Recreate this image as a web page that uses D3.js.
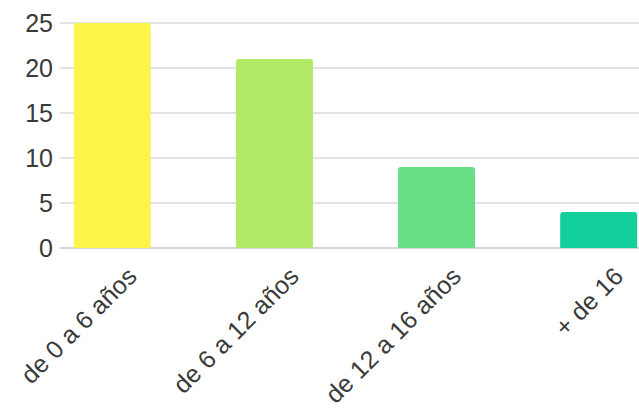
<!DOCTYPE html>
<html><head><meta charset="utf-8">
<script src="https://cdn.jsdelivr.net/npm/d3@7"></script>
<style>html,body{margin:0;padding:0;background:#fff;overflow:hidden}</style>
</head><body>
<svg id="c" width="639" height="416"></svg>
<script>
const categories = ["de 0 a 6 años", "de 6 a 12 años", "de 12 a 16 años", "+ de 16"];
const values = [25, 21, 9, 4];
const colors = ["#fff54a", "#b1ea66", "#68de87", "#12cf9b"];
const yTicks = [0, 5, 10, 15, 20, 25];

const svg = d3.select("#c");
const mLeft = 60, mRight = 651, mTop = 23, mBottom = 248;
const font = "'Liberation Sans', Arial, sans-serif";

const x = d3.scaleBand().domain(categories).range([mLeft, mRight]).paddingInner(0.525).paddingOuter(0.085);
const y = d3.scaleLinear().domain([0, 25]).range([mBottom, mTop]);

// gridlines
svg.append("g").selectAll("line").data(yTicks).join("line")
  .attr("x1", mLeft).attr("x2", mRight)
  .attr("y1", d => y(d)).attr("y2", d => y(d))
  .attr("stroke", d => d === 0 ? "#c8c8c8" : "#dadada").attr("stroke-width", 1.6);

// y axis labels
const yAxis = d3.axisLeft(y).tickValues(yTicks).tickSize(0).tickPadding(0);
const ya = svg.append("g").attr("transform", `translate(${mLeft - 7},0)`).call(yAxis);
ya.select(".domain").remove();
ya.selectAll("text").attr("font-family", font).attr("font-size", 25).attr("fill", "#3a3a3a");

// bars with rounded tops
const r = 3;
svg.append("g").selectAll("path").data(values).join("path")
  .attr("fill", (d, i) => colors[i])
  .attr("d", (d, i) => {
    const x0 = x(categories[i]), w = x.bandwidth(), y0 = y(d), y1 = y(0);
    return `M${x0},${y1} V${y0 + r} Q${x0},${y0} ${x0 + r},${y0} H${x0 + w - r} Q${x0 + w},${y0} ${x0 + w},${y0 + r} V${y1} Z`;
  });

// x labels rotated
svg.append("g").selectAll("text").data(categories).join("text")
  .attr("transform", d => `translate(${x(d) + x.bandwidth() / 2 + 26},${mBottom + 30}) rotate(-45)`)
  .attr("text-anchor", "end")
  .attr("font-family", font).attr("font-size", 25).attr("fill", "#3a3a3a")
  .text(d => d);
</script>
</body></html>
